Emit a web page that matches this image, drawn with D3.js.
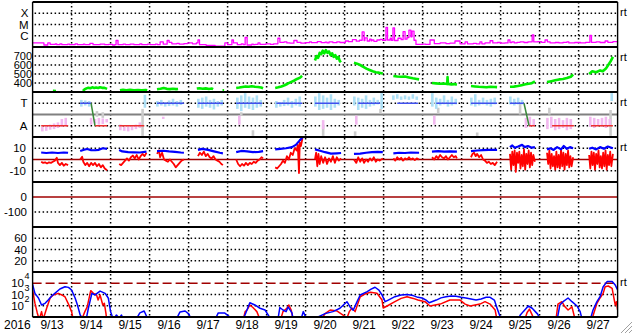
<!DOCTYPE html>
<html><head><meta charset="utf-8">
<script src="https://cdn.jsdelivr.net/npm/d3@7"></script>
<style>
body{margin:0;background:#fff;}
text{font-family:"Liberation Sans",Arial,Helvetica,sans-serif;fill:#000;}
</style></head>
<body><svg id="c" width="633" height="334"></svg>
<script>
// ---------- labels ----------
const dayLabels = ["9/13","9/14","9/15","9/16","9/17","9/18","9/19","9/20","9/21","9/22","9/23","9/24","9/25","9/26","9/27"];
const yearLabel = "2016";
const xrayTicks = [1e-6,1e-5,1e-4], xrayLabels = ["C","M","X"];
const speedTicks = [400,500,600,700];
const sectorTicks = [1,-1], sectorLabels = ["T","A"];
const bTicks = [10,0,-10];
const dstTicks = [0,-100];
const kpTicks = [20,40,60];
const fluxTicks = [1e2,1e3,1e4], fluxExp = ["2","3","4"];
const rtLabel = "rt";

// ---------- data (time = day of Sep 2016, decimal) ----------
const xray = [[13.00,2.3e-7],[13.29,1.5e-7],[13.39,2.3e-7],[13.45,1.7e-7],[13.58,1.9e-7],[13.62,1.6e-7],[13.70,1.9e-7],[13.75,1.6e-7],[13.90,1.8e-7],[13.95,1.6e-7],[14.09,1.9e-7],[14.15,1.6e-7],[14.30,1.8e-7],[14.34,1.6e-7],[14.47,2.1e-7],[14.55,1.6e-7],[14.73,1.8e-7],[14.85,1.6e-7],[14.95,1.7e-7],[15.05,1.5e-7],[15.11,1.6e-7],[15.14,3.8e-7],[15.19,1.6e-7],[15.32,1.8e-7],[15.38,1.6e-7],[15.50,1.8e-7],[15.60,1.6e-7],[15.75,1.9e-7],[15.80,1.6e-7],[15.95,1.8e-7],[16.02,1.6e-7],[16.15,1.8e-7],[16.20,1.6e-7],[16.27,2.8e-7],[16.35,1.8e-7],[16.45,3.8e-7],[16.50,2.6e-7],[16.57,1.9e-7],[16.70,2.1e-7],[16.76,1.8e-7],[16.88,2.0e-7],[16.98,2.3e-7],[17.10,1.9e-7],[17.20,2.3e-7],[17.24,4.2e-7],[17.28,1.6e-7],[17.45,1.4e-7],[17.68,1.2e-7],[17.93,2.3e-7],[18.00,1.6e-7],[18.11,4.2e-7],[18.15,2.3e-7],[18.25,1.6e-7],[18.35,1.9e-7],[18.40,1.6e-7],[18.45,7e-7],[18.50,1.5e-7],[18.62,1.8e-7],[18.66,1.6e-7],[18.70,1.7e-7],[18.78,2.3e-7],[18.83,1.7e-7],[18.98,1.9e-7],[19.10,1.7e-7],[19.18,1.9e-7],[19.29,6e-7],[19.34,2.6e-7],[19.45,2.8e-7],[19.52,2.3e-7],[19.60,2.2e-7],[19.70,3.8e-7],[19.78,2.6e-7],[19.88,2.2e-7],[19.99,2.4e-7],[20.10,2.8e-7],[20.15,2.4e-7],[20.30,3e-7],[20.40,2.4e-7],[20.50,2.7e-7],[20.55,2.3e-7],[20.60,2.8e-7],[20.70,2.4e-7],[20.80,2.9e-7],[20.88,2.5e-7],[21.02,3.4e-7],[21.10,3.0e-7],[21.20,4.5e-7],[21.30,3.3e-7],[21.38,4.0e-7],[21.45,2.2e-6],[21.50,3.8e-7],[21.52,6.5e-7],[21.58,3.4e-7],[21.64,5e-7],[21.68,3.6e-7],[21.70,4.2e-7],[21.75,3.2e-7],[21.83,4.2e-7],[21.91,4.8e-7],[21.97,4e-7],[22.06,5.5e-6],[22.10,4.2e-7],[22.17,6e-7],[22.20,4e-7],[22.24,5e-6],[22.28,3.8e-7],[22.37,6e-7],[22.45,4.5e-7],[22.50,2.3e-6],[22.55,5e-7],[22.60,7e-7],[22.65,3.2e-6],[22.70,8e-7],[22.73,2.6e-6],[22.78,4e-7],[22.83,1.7e-7],[23.00,1.8e-7],[23.08,1.7e-7],[23.19,4.2e-7],[23.30,2.0e-7],[23.45,2.3e-7],[23.60,2.0e-7],[23.70,2.2e-7],[23.83,3.4e-7],[23.96,1.9e-7],[24.09,2.8e-7],[24.15,1.9e-7],[24.30,2.1e-7],[24.38,1.9e-7],[24.47,2.8e-7],[24.52,1.9e-7],[24.60,2.3e-7],[24.73,3.6e-7],[24.80,2.3e-7],[24.92,2.5e-7],[25.00,2.2e-7],[25.11,2.3e-7],[25.19,4.2e-7],[25.24,2.5e-7],[25.29,2.8e-7],[25.35,2.3e-7],[25.42,2.6e-7],[25.50,2.8e-7],[25.60,2.5e-7],[25.70,2.9e-7],[25.81,1.2e-6],[25.85,2.8e-7],[25.95,3.0e-7],[26.05,2.6e-7],[26.14,4.2e-7],[26.20,2.8e-7],[26.27,2.3e-7],[26.40,2.5e-7],[26.50,2.3e-7],[26.60,2.6e-7],[26.70,2.8e-7],[26.75,2.3e-7],[26.90,2.5e-7],[27.05,2.3e-7],[27.18,2.6e-7],[27.29,1.1e-6],[27.33,2.6e-7],[27.45,2.9e-7],[27.55,2.5e-7],[27.68,3.4e-7],[27.75,2.6e-7],[27.88,3.0e-7],[28.00,2.6e-7]];

const speed = [[13.52,312],[13.60,310],[13.61,null],
[14.29,312],[14.33,328],[14.38,340],[14.43,348],[14.48,342],[14.53,352],[14.58,345],[14.63,350],[14.68,344],[14.73,352],[14.78,346],[14.83,348],[14.88,340],[14.91,335],[14.92,null],
[15.24,318],[15.32,324],[15.40,320],[15.50,324],[15.60,320],[15.70,322],[15.80,320],[15.90,323],[15.94,320],[15.95,null],
[16.19,330],[16.28,336],[16.36,345],[16.44,335],[16.52,332],[16.60,336],[16.68,332],[16.73,334],[16.74,null],
[17.21,338],[17.28,342],[17.36,336],[17.44,340],[17.52,334],[17.60,338],[17.63,332],[17.64,null],[17.87,318],[17.91,318],[17.92,null],
[18.22,345],[18.30,350],[18.38,356],[18.46,362],[18.54,358],[18.62,364],[18.70,358],[18.78,355],[18.86,350],[18.91,342],[18.92,null],
[19.22,345],[19.30,352],[19.38,362],[19.46,375],[19.54,392],[19.62,410],[19.70,425],[19.78,445],[19.86,460],[19.91,480],[19.92,null],
[20.24,650],[20.28,700],[20.32,680],[20.36,735],[20.40,720],[20.44,760],[20.48,730],[20.52,765],[20.56,735],[20.60,750],[20.64,710],[20.68,730],[20.72,690],[20.76,710],[20.80,670],[20.84,690],[20.88,640],[20.91,650],[20.92,null],
[21.24,625],[21.32,615],[21.40,600],[21.48,580],[21.56,560],[21.64,545],[21.72,530],[21.80,520],[21.88,515],[21.98,505],[21.99,null],
[22.25,478],[22.35,472],[22.45,470],[22.55,472],[22.65,462],[22.75,452],[22.85,445],[22.91,440],[22.92,null],
[23.24,400],[23.34,396],[23.44,392],[23.54,395],[23.63,388],[23.64,465],[23.65,390],[23.74,385],[23.82,388],[23.88,380],[23.89,null],
[24.24,366],[24.34,362],[24.44,358],[24.54,356],[24.64,352],[24.74,358],[24.84,356],[24.91,354],[24.92,null],
[25.24,358],[25.34,360],[25.44,366],[25.54,375],[25.64,385],[25.72,392],[25.80,398],[25.88,418],[25.89,null],
[26.19,410],[26.30,420],[26.40,430],[26.50,440],[26.60,445],[26.70,455],[26.80,470],[26.86,495],[26.87,null],
[27.27,500],[27.35,530],[27.45,520],[27.55,540],[27.62,530],[27.70,560],[27.76,600],[27.82,640],[27.88,690]];

// IMF sector: toward / away intervals and transitions (T -> A)
const sectorToward = [[14.22,14.50],[16.19,16.88],[17.24,17.88],[18.22,18.88],[19.25,19.91],[20.24,20.86],[21.35,21.91],[22.35,22.88],[23.35,23.88],[24.24,24.91],[25.24,25.60]];
const sectorAway = [[13.22,13.91],[14.60,14.91],[15.22,15.86],[25.73,25.88],[26.32,26.88],[27.32,27.88]];
const sectorChange = [[14.50,14.60],[25.60,25.73]];
// scatter of direction (day, low, high) in sector units (T=+1, A=-1)
const phiToward = [[14.25,0.7,1.3],[14.35,0.8,1.25],[14.45,0.7,1.2],[15.88,0.6,1.75],
[16.2,0.7,1.2],[16.3,0.8,1.3],[16.4,0.7,1.1],[16.5,0.75,1.25],[16.6,0.8,1.4],[16.7,0.7,1.2],[16.8,0.85,1.3],
[17.25,0.6,1.4],[17.35,0.5,1.5],[17.45,0.7,1.6],[17.55,0.6,1.3],[17.65,0.45,1.4],[17.75,0.7,1.2],[17.85,0.8,1.3],
[18.25,0.5,1.5],[18.35,0.3,1.7],[18.45,0.6,1.9],[18.55,0.5,1.6],[18.65,0.4,1.5],[18.75,0.6,1.7],[18.85,0.7,1.3],
[19.25,0.6,1.2],[19.35,0.7,1.1],[19.45,0.75,1.3],[19.55,0.8,1.5],[19.65,0.6,1.2],[19.75,0.8,1.4],[19.85,0.7,1.6],
[20.25,0.7,1.6],[20.35,0.4,1.9],[20.45,0.5,1.7],[20.55,0.6,1.5],[20.65,0.4,1.8],[20.75,0.6,1.4],[20.85,0.8,1.3],
[21.25,0.8,1.6],[21.35,0.4,1.5],[21.45,0.6,1.4],[21.55,0.5,1.7],[21.65,0.7,1.3],[21.75,0.8,1.5],[21.85,0.9,1.3],[21.95,0.5,1.9],
[22.25,1.3,1.7],[22.35,1.4,1.8],[22.45,1.3,1.6],[22.55,1.35,1.7],[22.65,1.3,1.6],[22.75,1.4,1.8],[22.85,1.3,1.6],
[23.25,0.7,1.9],[23.35,0.5,1.5],[23.45,0.8,1.4],[23.55,0.9,1.7],[23.65,0.7,1.3],[23.75,0.8,1.6],[23.85,0.9,1.4],
[24.25,0.8,1.5],[24.35,0.7,1.8],[24.45,0.8,1.3],[24.55,0.9,1.5],[24.65,0.8,1.3],[24.75,0.7,1.4],[24.85,0.9,1.5],
[25.25,0.9,1.6],[25.35,0.8,1.4],[25.45,0.9,1.5],[25.55,0.9,1.3],[27.85,1.2,1.9]];
const phiAway = [[13.25,-1.5,-1.1],[13.35,-1.45,-1.0],[13.45,-1.35,-0.9],[13.55,-1.3,-0.8],[13.65,-1.2,-0.7],[13.75,-1.1,-0.4],[13.85,-1.0,-0.3],
[14.5,-0.9,-0.3],[14.6,-0.8,-0.4],[14.7,-0.9,-0.3],[14.8,-0.85,-0.35],[14.9,-0.7,-0.4],
[15.25,-1.4,-0.9],[15.35,-1.45,-1.1],[15.45,-1.5,-1.0],[15.55,-1.4,-1.0],[15.65,-1.3,-0.9],[15.75,-1.2,-0.7],
[16.35,-0.4,-0.2],[18.3,-0.9,-0.1],[20.45,-1.3,-0.5],[21.3,-0.9,-0.1],[23.3,-0.9,-0.1],
[25.65,-1.2,-0.3],[25.75,-1.1,-0.2],[25.85,-1.0,-0.4],
[26.2,-1.3,-0.3],[26.3,-1.2,-0.2],[26.4,-1.4,-0.4],[26.5,-1.3,-0.3],[26.6,-1.2,-0.5],[26.7,-1.4,-0.3],[26.8,-1.3,-0.4],
[27.3,-1.1,-0.2],[27.4,-1.2,-0.3],[27.5,-1.0,-0.4],[27.6,-1.1,-0.3],[27.7,-1.2,-0.2],[27.8,-1.0,-0.4]];
const phiOther = [[14.65,-0.2,0.3],[14.8,-0.3,0.2],[15.82,-1.9,0.5],[18.35,-0.1,0.2],[18.65,-1.9,-1.4],[20.45,-1.9,-0.9],[21.27,-1.9,-1.5],[21.92,0.1,0.5],[23.4,0.1,0.6],[24.4,-1.9,-1.6],[25.5,0.0,1.0],[26.25,0.0,0.6],[27.82,-1.9,0.4]];

const bt = [[13.22,6.2],[13.35,5.8],[13.5,6.2],[13.65,5.8],[13.8,6.2],[13.91,6],[13.92,null],
[14.22,7.5],[14.3,8.5],[14.4,9.3],[14.5,8.3],[14.6,8.2],[14.7,8.6],[14.8,10],[14.91,9.5],[14.92,null],
[15.22,8.5],[15.3,7.2],[15.45,6.5],[15.6,6.3],[15.75,6.2],[15.92,7],[15.93,null],
[16.19,7.5],[16.35,7.8],[16.5,7.2],[16.65,6.8],[16.8,6.2],[16.88,6],[16.89,null],
[17.24,8.5],[17.35,9.5],[17.5,8.5],[17.65,7.2],[17.8,6],[17.88,5.5],[17.89,null],
[18.22,6.5],[18.35,7.6],[18.5,7.2],[18.65,6.6],[18.8,6.8],[18.91,7.5],[18.92,null],
[19.22,9],[19.35,9.5],[19.5,10],[19.65,11],[19.75,13],[19.85,17],[19.92,19.5],[19.93,null],
[20.24,9],[20.35,8],[20.5,6.5],[20.65,5.2],[20.8,5.5],[20.91,5.8],[20.92,null],
[21.24,5],[21.4,5.2],[21.55,6],[21.7,6.5],[21.85,6.8],[21.98,6.5],[21.99,null],
[22.25,5.5],[22.4,6],[22.55,5.8],[22.7,6.2],[22.91,6],[22.92,null],
[23.24,7],[23.4,7.5],[23.55,7],[23.7,7.3],[23.88,7],[23.89,null],
[24.24,7.5],[24.4,8],[24.55,8.3],[24.7,8.5],[24.91,8.5],[24.92,null],
[25.24,11],[25.3,12.5],[25.36,10.5],[25.45,11.5],[25.55,13],[25.62,11],[25.7,12],[25.8,10.5],[25.88,11],[25.89,null],
[26.19,9],[26.28,10],[26.36,8.5],[26.45,11],[26.55,9],[26.62,12],[26.7,9.5],[26.78,11],[26.86,10],[26.87,null],
[27.27,9.5],[27.35,10.5],[27.45,9],[27.55,11],[27.65,9.5],[27.75,11.5],[27.88,10]];

const bz = [[13.22,-2],[13.27,-3],[13.32,-2.5],[13.37,-3.5],[13.42,-2.5],[13.47,-3],[13.52,-2],[13.57,-1],[13.62,1.5],[13.65,-3],[13.7,-5],[13.75,-3],[13.8,-5.5],[13.85,-4],[13.91,-5],[13.92,null],
[14.22,0],[14.27,2.5],[14.3,-2],[14.35,-5],[14.4,-3],[14.45,-6],[14.5,-3],[14.55,-5],[14.6,-3],[14.65,-6],[14.7,-4],[14.75,-7],[14.8,-5],[14.85,-8],[14.91,-9.5],[14.92,null],
[15.22,-4],[15.27,-5],[15.32,-3],[15.37,-1],[15.42,1],[15.47,-1],[15.52,2],[15.57,3.5],[15.62,1],[15.67,4],[15.72,0],[15.77,3],[15.82,5],[15.87,3],[15.92,6],[15.93,null],
[16.19,5],[16.24,8],[16.27,2],[16.32,6],[16.37,0],[16.42,-1],[16.47,-2],[16.52,0],[16.57,-2],[16.62,-4],[16.67,-7],[16.72,-5],[16.77,-3],[16.82,-1],[16.88,0],[16.89,null],
[17.24,3],[17.29,6],[17.34,4],[17.39,7],[17.44,3],[17.49,5],[17.54,2],[17.59,1],[17.64,3],[17.69,0],[17.74,-1],[17.79,-2],[17.84,-4],[17.88,-5],[17.89,null],
[18.22,0],[18.27,-4],[18.32,-6],[18.37,-4],[18.42,-5.5],[18.47,-3],[18.52,-5],[18.57,-3],[18.62,-4],[18.67,-2],[18.72,-3],[18.77,-1],[18.82,0],[18.87,2],[18.91,1],[18.92,null],
[19.22,-7],[19.27,-8],[19.32,-6],[19.37,-4],[19.42,-1],[19.47,-3],[19.52,3],[19.57,0],[19.62,6],[19.67,4],[19.72,10],[19.77,8],[19.80,13],[19.83,-12],[19.85,15],[19.88,12],[19.92,19],[19.93,null],
[20.24,0],[20.27,6],[20.3,-6],[20.33,5],[20.36,-4],[20.4,3],[20.45,-3],[20.5,2],[20.55,-4],[20.6,1],[20.65,-2],[20.7,3],[20.75,-3],[20.8,2],[20.85,-1],[20.91,1],[20.92,null],
[21.24,0],[21.3,-3],[21.35,2],[21.4,-2],[21.45,1],[21.5,-3],[21.55,0],[21.6,-2],[21.65,1],[21.7,-1],[21.75,2],[21.8,-2],[21.85,0],[21.9,-1],[21.98,1],[21.99,null],
[22.25,1],[22.3,-1],[22.35,2],[22.4,0],[22.45,1.5],[22.5,-1],[22.55,1],[22.6,0],[22.65,2],[22.7,0],[22.75,1],[22.8,-0.5],[22.85,1],[22.91,0],[22.92,null],
[23.24,2],[23.3,0],[23.35,3],[23.4,1],[23.45,4],[23.5,2],[23.55,1],[23.6,3],[23.65,0],[23.7,2],[23.75,4],[23.8,2],[23.85,3],[23.88,1],[23.89,null],
[24.24,2],[24.28,5],[24.32,6],[24.36,3],[24.4,5],[24.45,2],[24.5,4],[24.55,0],[24.6,-1],[24.65,-3],[24.7,-2],[24.75,-4],[24.8,-3],[24.85,-5],[24.91,-2],[24.92,null],
[25.24,5],[25.27,-9],[25.3,7],[25.33,-5],[25.36,8],[25.39,-11],[25.42,6],[25.45,-3],[25.48,7],[25.51,-8],[25.54,4],[25.57,-6],[25.6,9],[25.63,-9],[25.66,5],[25.69,-4],[25.72,8],[25.75,-7],[25.78,6],[25.81,-5],[25.84,4],[25.88,-2],[25.89,null],
[26.19,6],[26.22,-4],[26.25,8],[26.28,-8],[26.31,5],[26.34,-6],[26.37,3],[26.4,-9],[26.43,7],[26.46,-7],[26.49,4],[26.52,-8],[26.55,9],[26.58,-6],[26.61,6],[26.64,-9],[26.67,5],[26.7,-5],[26.73,8],[26.76,-7],[26.79,3],[26.82,-6],[26.86,2],[26.87,null],
[27.27,4],[27.3,-8],[27.33,7],[27.36,-5],[27.39,6],[27.42,-9],[27.45,5],[27.48,-4],[27.51,8],[27.54,-7],[27.57,3],[27.6,-8],[27.63,6],[27.66,-6],[27.69,8],[27.72,-9],[27.75,4],[27.78,-5],[27.81,7],[27.84,-6],[27.88,5]];

const fluxBlue = [[13.00,8000],[13.06,1260],[13.15,490],[13.23,117],[13.32,165],[13.40,320],[13.49,740],[13.57,1260],[13.70,3100],[13.83,4900],[13.92,4300],[14.00,2500],[14.09,490],[14.15,117],[14.22,15],[14.30,6],[14.38,8],[14.43,60],[14.52,1260],[14.60,910],[14.73,2000],[14.86,1260],[14.94,490],[15.00,30],[15.07,6],[15.15,15],[15.22,8],[15.28,15],[15.32,6],
[15.65,6],[15.75,23],[15.86,34],[15.96,6],[16.68,6],[16.78,28],[16.91,34],[17.01,18],[17.06,6],[17.68,6],[17.76,23],[17.92,23],[18.03,12],[18.09,6],
[18.40,6],[18.57,185],[18.70,117],[18.83,60],[18.96,42],[19.09,8],[19.29,6],[19.34,70],[19.42,42],[19.50,30],[19.55,78],[19.65,23],[19.68,6],[19.88,6],[19.94,30],[20.03,6],
[20.20,6],[20.32,10],[20.50,20],[20.70,30],[20.88,60],[21.06,230],[21.14,78],[21.22,40],[21.32,230],[21.40,900],[21.58,1800],[21.68,3000],[21.78,4400],[21.88,2500],[21.96,900],[22.04,230],[22.12,320],
[22.29,640],[22.45,900],[22.60,1000],[22.76,800],[22.88,560],[22.99,490],[23.09,320],[23.17,185],[23.35,320],[23.47,500],[23.60,630],[23.73,740],[23.86,700],[23.99,560],[24.11,490],[24.24,400],[24.37,320],[24.50,400],[24.63,560],[24.73,560],[24.84,320],[24.91,60],[24.99,10],[25.02,6],
[25.45,6],[25.50,14],[25.58,30],[25.71,95],[25.81,60],[25.89,30],[25.95,18],[26.02,6],
[26.45,6],[26.52,117],[26.62,260],[26.73,490],[26.83,230],[26.96,95],[27.04,30],[27.09,6],
[27.30,6],[27.37,42],[27.47,230],[27.55,630],[27.63,4900],[27.73,14000],[27.86,14000],[27.94,6900],[28.00,2500]];

const fluxRed = [[13.00,2500],[13.06,170],[13.12,23],[13.17,6],[13.23,30],[13.27,6],[13.36,60],[13.45,490],[13.53,910],[13.66,1260],[13.75,910],[13.83,630],[13.92,140],[14.00,30],[14.04,6],[14.26,6],[14.34,30],[14.40,80],[14.49,2200],[14.56,1260],[14.64,910],[14.68,320],[14.73,910],[14.80,117],[14.84,165],[14.88,22],[14.90,6],
[18.40,6],[18.45,30],[18.50,42],[18.57,117],[18.65,70],[18.75,30],[18.83,6],
[19.36,6],[19.42,30],[19.52,60],[19.57,117],[19.63,42],[19.68,6],
[20.40,6],[20.50,20],[20.63,42],[20.81,34],[20.96,15],[21.06,8],[21.12,30],[21.19,63],[21.27,30],[21.40,630],[21.52,1100],[21.66,1600],[21.83,1300],[21.96,320],[21.99,63],[22.09,95],[22.29,230],[22.45,450],[22.60,630],[22.76,450],[22.88,320],[23.06,230],[23.19,95],[23.45,140],[23.70,320],[23.96,320],[24.09,140],[24.22,95],[24.47,140],[24.60,230],[24.73,140],[24.86,42],[24.91,5],
[25.62,6],[25.68,25],[25.74,50],[25.80,18],[25.86,6],
[26.42,6],[26.47,140],[26.57,230],[26.65,80],[26.73,42],[26.83,80],[26.91,6],
[27.34,6],[27.47,165],[27.55,490],[27.63,1260],[27.68,4900],[27.76,5700],[27.86,3500],[27.89,910],[27.94,117],[27.97,230],[28.00,42]];

// ---------- layout ----------
const svg = d3.select("#c");
const L = 32.6, R = 617.6, T0 = 2, PH = 45;
const py = i => T0 + i*PH;
const t2d = d => new Date(Date.UTC(2016,8,1) + (d-1)*864e5);
const x = d3.scaleUtc().domain([t2d(13), t2d(28)]).range([L, R]);

const yX = d3.scaleLog().domain([1e-7,1e-3]).range([py(1),py(0)]);
const yV = d3.scaleLinear().domain([300,800]).range([py(2),py(1)]);
const yS = d3.scaleLinear().domain([-2,2]).range([py(3),py(2)]);
const yB = d3.scaleLinear().domain([-20,20]).range([py(4),py(3)]);
const yD = d3.scaleLinear().domain([-200,100]).range([py(5),py(4)]);
const yK = d3.scaleLinear().domain([0,80]).range([py(6),py(5)]);
const yF = d3.scaleLog().domain([10,1e5]).range([py(7),py(6)]);

const defs = svg.append("defs");
for (let i=0;i<7;i++){
  defs.append("clipPath").attr("id","cp"+i).append("rect")
    .attr("x",L).attr("y",py(i)).attr("width",R-L).attr("height",PH);
}
svg.append("rect").attr("width",633).attr("height",334).attr("fill","#fff");

const DOT = "1.5,2.5";
const grid = svg.append("g");
const dayBounds = d3.range(14,28);
grid.selectAll("line.v").data(dayBounds).join("line")
  .attr("x1",d=>x(t2d(d))).attr("x2",d=>x(t2d(d)))
  .attr("y1",py(0)).attr("y2",py(7))
  .attr("stroke","#000").attr("stroke-width",1.5).attr("stroke-dasharray",DOT);

function hgrid(scale, vals){
  grid.selectAll(null).data(vals).join("line")
    .attr("x1",L+2).attr("x2",R).attr("y1",d=>scale(d)).attr("y2",d=>scale(d))
    .attr("stroke","#000").attr("stroke-width",1.5).attr("stroke-dasharray",DOT);
}
hgrid(yX, xrayTicks); hgrid(yV, speedTicks); hgrid(yS, sectorTicks);
hgrid(yB, [10,-10]); hgrid(yD, [-100]); hgrid(yK, kpTicks); hgrid(yF, [1e2,1e3]);

svg.append("line").attr("x1",L).attr("x2",R).attr("y1",yS(0)).attr("y2",yS(0)).attr("stroke","#808080").attr("stroke-width",2);
svg.append("line").attr("x1",L).attr("x2",R).attr("y1",yB(0)).attr("y2",yB(0)).attr("stroke","#a00000").attr("stroke-width",1.5);
svg.append("line").attr("x1",L).attr("x2",R).attr("y1",yD(0)).attr("y2",yD(0)).attr("stroke","#a00000").attr("stroke-width",1.5);
svg.append("line").attr("x1",L).attr("x2",R).attr("y1",yF(1e4)).attr("y2",yF(1e4)).attr("stroke","#a00000").attr("stroke-width",1.5).attr("stroke-dasharray","9,4");

const line = (ys, curve) => d3.line().defined(d=>d[1]!=null).x(d=>x(t2d(d[0]))).y(d=>ys(d[1])).curve(curve||d3.curveLinear);
function draw(data, ys, panel, color, w, curve){
  svg.append("path").datum(data).attr("clip-path","url(#cp"+panel+")")
    .attr("d", line(ys,curve)).attr("fill","none").attr("stroke",color)
    .attr("stroke-width",w).attr("stroke-linejoin","round");
}

draw(xray, yX, 0, "#ff00ff", 1.3, d3.curveStepAfter);
draw(speed, yV, 1, "#00ee00", 2.6);

const gS = svg.append("g").attr("clip-path","url(#cp2)");
function bars(data, color){
  gS.selectAll(null).data(data).join("rect")
    .attr("x",d=>x(t2d(d[0]))-1.3).attr("width",2.6)
    .attr("y",d=>yS(d[2])).attr("height",d=>yS(d[1])-yS(d[2]))
    .attr("fill",color);
}
bars(phiOther, "#cccccc");
bars(phiToward, "#acdff5");
bars(phiAway, "#f2b8ef");
gS.selectAll(null).data(sectorToward).join("line")
  .attr("x1",d=>x(t2d(d[0]))).attr("x2",d=>x(t2d(d[1]))).attr("y1",yS(1)).attr("y2",yS(1))
  .attr("stroke","#4050ee").attr("stroke-width",1.5);
gS.selectAll(null).data(sectorAway).join("line")
  .attr("x1",d=>x(t2d(d[0]))).attr("x2",d=>x(t2d(d[1]))).attr("y1",yS(-1)).attr("y2",yS(-1))
  .attr("stroke","#ee3030").attr("stroke-width",1.5);
gS.selectAll(null).data(sectorChange).join("line")
  .attr("x1",d=>x(t2d(d[0]))).attr("x2",d=>x(t2d(d[1]))).attr("y1",yS(1)).attr("y2",yS(-1))
  .attr("stroke","#3a8a3a").attr("stroke-width",1.5);

draw(bz, yB, 3, "#ff0000", 1.8);
draw(bt, yB, 3, "#0000ff", 2.2);
draw(fluxRed, yF, 6, "#ff0000", 1.5);
draw(fluxBlue, yF, 6, "#0000ff", 1.5);

const bd = svg.append("g");
bd.selectAll(null).data(d3.range(0,8)).join("line")
  .attr("x1",L).attr("x2",R).attr("y1",d=>py(d)).attr("y2",d=>py(d))
  .attr("stroke","#000").attr("stroke-width",2);
[L,R].forEach(v=>bd.append("line").attr("x1",v).attr("x2",v).attr("y1",py(0)).attr("y2",py(7)).attr("stroke","#000").attr("stroke-width",1.4));

const lab = svg.append("g").attr("font-size",11.5);
function ylabels(scale, vals, texts, xr, fs){
  lab.selectAll(null).data(vals).join("text")
    .attr("x",xr).attr("y",d=>scale(d)).attr("dy","0.36em").attr("text-anchor","end")
    .attr("font-size",fs||11.5)
    .text((d,i)=>texts ? texts[i] : d);
}
ylabels(yX, xrayTicks, xrayLabels, 28.5);
ylabels(yV, speedTicks, null, 32, 11);
ylabels(yS, sectorTicks, sectorLabels, 27.5);
ylabels(yB, bTicks, null, 26);
ylabels(yD, dstTicks, null, 27);
ylabels(yK, kpTicks, null, 27);
fluxTicks.forEach((v,i)=>{
  lab.append("text").attr("x",24).attr("y",yF(v)).attr("dy","0.36em").attr("text-anchor","end").text("10");
  lab.append("text").attr("x",24.5).attr("y",yF(v)-4).attr("font-size",9).text(fluxExp[i]);
});

const xl = svg.append("g").attr("font-size",12);
xl.selectAll(null).data(dayLabels).join("text")
  .attr("x",(d,i)=>x(t2d(13.5+i))).attr("y",329).attr("text-anchor","middle").text(d=>d);
xl.append("text").attr("x",4).attr("y",329).text(yearLabel);

[0,1,2,3,6].forEach(i=>{
  svg.append("text").attr("x",620).attr("y",py(i)+14).attr("font-size",11).text(rtLabel);
});

const grip = svg.append("g").attr("stroke","#a0a0a0").attr("stroke-width",1);
[3,7,11].forEach(k=>{
  grip.append("line").attr("x1",632-k).attr("y1",333).attr("x2",632).attr("y2",333-k);
});
</script>
</body></html>
